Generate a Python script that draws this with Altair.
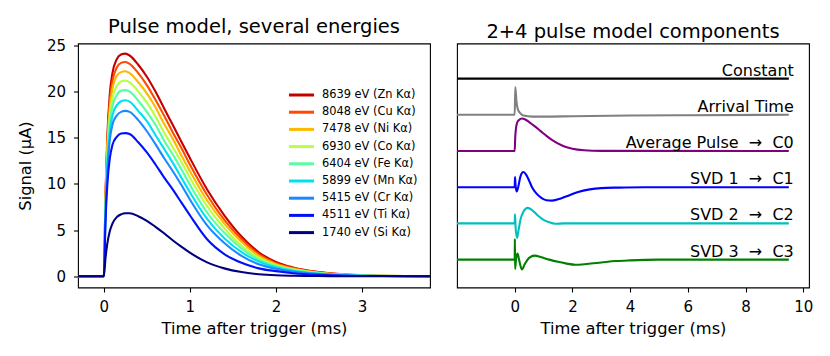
import altair as alt
import pandas as pd

FONT = "DejaVu Sans"

# ---------------- Left panel: pulse model for several energies ----------------
t_left = [-0.3, 0, 0.02, 0.04, 0.07, 0.1, 0.15, 0.2, 0.25, 0.3, 0.4, 0.5, 0.6, 0.7,
          0.8, 0.9, 1.0, 1.2, 1.4, 1.6, 1.8, 2.0, 2.2, 2.5, 2.8, 3.2, 3.8]

energy_labels = ["8639 eV (Zn Kα)", "8048 eV (Cu Kα)", "7478 eV (Ni Kα)",
                 "6930 eV (Co Kα)", "6404 eV (Fe Kα)", "5899 eV (Mn Kα)",
                 "5415 eV (Cr Kα)", "4511 eV (Ti Kα)", "1740 eV (Si Kα)"]
energy_colors = ["#c40000", "#ff4a00", "#ffb800", "#b8ff40", "#58ffa0",
                 "#00e0f4", "#1a88ff", "#0010ff", "#000080"]

zn = [0, 0, 9.0, 15.0, 19.8, 22.0, 23.5, 24.0, 24.1, 23.9, 22.9, 21.6, 20.0, 18.2,
      16.4, 14.6, 12.8, 9.4, 6.6, 4.3, 2.6, 1.55, 0.95, 0.45, 0.2, 0.06, 0.0]
cu = [0, 0, 8.7, 14.4, 19.0, 21.1, 22.6, 23.1, 23.2, 23.0, 22.0, 20.7, 19.1, 17.4,
      15.6, 13.9, 12.1, 8.8, 6.1, 4.0, 2.4, 1.4, 0.88, 0.42, 0.18, 0.05, 0.0]
ni = [0, 0, 8.3, 13.9, 18.3, 20.3, 21.7, 22.1, 22.2, 22.0, 21.0, 19.8, 18.3, 16.5,
      14.9, 13.1, 11.4, 8.2, 5.7, 3.7, 2.2, 1.3, 0.8, 0.38, 0.17, 0.05, 0.0]
co = [0, 0, 8.0, 13.2, 17.4, 19.3, 20.6, 21.1, 21.2, 21.0, 20.0, 18.8, 17.3, 15.6,
      14.0, 12.4, 10.7, 7.6, 5.2, 3.3, 2.0, 1.2, 0.74, 0.35, 0.15, 0.04, 0.0]
fe = [0, 0, 7.6, 12.6, 16.6, 18.4, 19.6, 20.1, 20.15, 20.0, 19.0, 17.8, 16.4, 14.7,
      13.2, 11.6, 9.9, 6.9, 4.7, 3.0, 1.8, 1.1, 0.66, 0.31, 0.14, 0.04, 0.0]
mn = [0, 0, 7.2, 11.9, 15.7, 17.4, 18.5, 18.95, 19.05, 18.9, 17.9, 16.8, 15.3, 13.8,
      12.3, 10.7, 9.1, 6.2, 4.1, 2.6, 1.6, 0.96, 0.58, 0.27, 0.12, 0.03, 0.0]
cr = [0, 0, 6.8, 11.3, 14.8, 16.4, 17.4, 17.8, 17.9, 17.8, 16.9, 15.7, 14.3, 12.8,
      11.4, 9.9, 8.3, 5.5, 3.6, 2.2, 1.3, 0.8, 0.5, 0.23, 0.1, 0.02, 0.0]
ti = [0, 0, 6.0, 9.8, 12.8, 14.2, 15.1, 15.45, 15.5, 15.4, 14.5, 13.4, 12.1, 10.7,
      9.4, 8.0, 6.6, 4.0, 2.4, 1.45, 0.85, 0.55, 0.33, 0.15, 0.06, 0.02, 0.0]
si = [0, 0, 2.0, 3.5, 4.9, 5.7, 6.4, 6.7, 6.82, 6.82, 6.5, 6.0, 5.35, 4.65,
      3.9, 3.2, 2.55, 1.5, 0.85, 0.45, 0.22, 0.1, 0.05, 0.02, 0.0, 0.0, 0.0]
pulse_values = [zn, cu, ni, co, fe, mn, cr, ti, si]

# ---------------- Right panel: pulse model components ----------------
comp_names = ["Constant", "Arrival Time", "Average Pulse \u00a0\u2192\u00a0 C0",
              "SVD 1 \u00a0\u2192\u00a0 C1", "SVD 2 \u00a0\u2192\u00a0 C2",
              "SVD 3 \u00a0\u2192\u00a0 C3"]
comp_colors = ["#000000", "#808080", "#800080", "#0000ff", "#00bfbf", "#008000"]
comp_offsets = [5, 4, 3, 2, 1, 0]

const_t = [-2, 9.5]
const_v = [0, 0]
arr_t = [-2, 0, 0.02, 0.06, 0.11, 0.2, 0.3, 0.6, 1.0, 2.0, 4.0, 6.0, 9.5]
arr_v = [0, 0, 0.77, 0.38, 0.15, 0.04, -0.02, -0.05, -0.05, -0.04, -0.02, -0.01, 0]
avg_t = [-2, 0, 0.02, 0.04, 0.07, 0.1, 0.15, 0.25, 0.35, 0.5, 0.7, 0.9, 1.1, 1.4,
         1.7, 2.0, 2.4, 3.0, 9.5]
avg_v = [0, 0, 0.4, 0.6, 0.74, 0.81, 0.86, 0.9, 0.88, 0.8, 0.68, 0.55, 0.42, 0.25,
         0.13, 0.06, 0.02, 0.005, 0]
svd1_t = [-2, 0, 0.01, 0.03, 0.07, 0.12, 0.2, 0.3, 0.4, 0.5, 0.6, 0.75, 0.9, 1.1,
          1.3, 1.6, 1.9, 2.2, 2.6, 3.0, 3.6, 4.5, 9.5]
svd1_v = [0, 0, 0.28, 0.05, -0.12, 0.0, 0.3, 0.42, 0.34, 0.18, 0.0, -0.17, -0.28,
          -0.36, -0.37, -0.31, -0.22, -0.13, -0.06, -0.025, -0.01, 0, 0]
svd2_t = [-2, 0, 0.01, 0.03, 0.08, 0.13, 0.2, 0.3, 0.45, 0.6, 0.8, 1.0, 1.2, 1.4,
          1.7, 9.5]
svd2_v = [0, 0, 0.25, -0.1, -0.4, -0.2, 0.1, 0.32, 0.43, 0.37, 0.22, 0.1, 0.03,
          -0.01, 0.0, 0]
svd3_t = [-2, 0, 0.005, 0.015, 0.05, 0.1, 0.15, 0.25, 0.35, 0.5, 0.7, 0.9, 1.2,
          1.5, 1.8, 2.1, 2.5, 3.0, 3.5, 4.0, 5.0, 9.5]
svd3_v = [0, 0, 0.57, -0.26, 0.05, 0.17, 0.0, -0.27, -0.12, 0.05, 0.11, 0.07, 0.0,
          -0.06, -0.11, -0.14, -0.12, -0.08, -0.04, -0.02, 0, 0]
comp_series = [(const_t, const_v), (arr_t, arr_v), (avg_t, avg_v),
               (svd1_t, svd1_v), (svd2_t, svd2_v), (svd3_t, svd3_v)]

# ---------------- tables ----------------
left_rows = []
for lab, vals in zip(energy_labels, pulse_values):
    for t, v in zip(t_left, vals):
        left_rows.append({"t": t, "v": v, "line": lab})
left_df = pd.DataFrame(left_rows)

right_rows, label_rows = [], []
for name, off, (ts, vs) in zip(comp_names, comp_offsets, comp_series):
    for t, v in zip(ts, vs):
        right_rows.append({"t": t, "y": off + v, "comp": name})
    label_rows.append({"t": ts[-1], "y": off, "comp": name})
right_df = pd.DataFrame(right_rows)
label_df = pd.DataFrame(label_rows)

title_kw = dict(fontSize=19.5, font=FONT, fontWeight="normal", color="black",
                anchor="middle", frame="group", offset=1)

left = alt.Chart(left_df).mark_line(strokeWidth=2.1, interpolate="monotone", clip=True).encode(
    x=alt.X("t:Q", scale=alt.Scale(domain=[-0.3, 3.79], nice=False, zero=False),
            axis=alt.Axis(values=[0, 1, 2, 3], format="d", title="Time after trigger (ms)")),
    y=alt.Y("v:Q", scale=alt.Scale(domain=[-1.22, 25.2], nice=False, zero=False),
            axis=alt.Axis(values=[0, 5, 10, 15, 20, 25], format="d", title="Signal (μA)")),
    color=alt.Color("line:N", sort=energy_labels,
                    scale=alt.Scale(domain=energy_labels, range=energy_colors),
                    legend=alt.Legend(orient="none", legendX=217, legendY=45, title=None,
                                      symbolType="M-2.5,0H2.5", symbolSize=100,
                                      symbolStrokeWidth=3, labelFontSize=11.4,
                                      labelFont=FONT, labelColor="black", labelOffset=14,
                                      rowPadding=4.2, padding=0, labelLimit=300)),
).properties(width=352, height=244,
             title=alt.Title("Pulse model, several energies", **title_kw))

right_lines = alt.Chart(right_df).mark_line(strokeWidth=2.1, interpolate="monotone", clip=True).encode(
    x=alt.X("t:Q", scale=alt.Scale(domain=[-2, 10.2], nice=False, zero=False),
            axis=alt.Axis(values=[0, 2, 4, 6, 8, 10], format="d", title="Time after trigger (ms)")),
    y=alt.Y("y:Q", scale=alt.Scale(domain=[-0.77, 5.97], nice=False, zero=False), axis=None),
    color=alt.Color("comp:N", sort=comp_names,
                    scale=alt.Scale(domain=comp_names, range=comp_colors), legend=None),
)
right_text = alt.Chart(label_df).mark_text(align="right", baseline="alphabetic", dx=5, dy=-3,
                                            fontSize=16, font=FONT, color="black").encode(
    x="t:Q", y="y:Q", text="comp:N")
right = alt.layer(right_lines, right_text).properties(
    width=352, height=244, title=alt.Title("2+4 pulse model components", **title_kw))

chart = alt.hconcat(left, right, spacing=25).resolve_scale(color="independent").properties(
    padding={"left": 8, "top": 7.5, "right": 5, "bottom": 5}
).configure_view(stroke="black", strokeWidth=1.1).configure_axis(
    labelFont=FONT, labelFontSize=15, labelColor="black",
    titleFont=FONT, titleFontSize=16.3, titleFontWeight="normal", titleColor="black",
    tickColor="black", tickSize=4.5, tickWidth=1.1, domain=False, grid=False,
).configure_axisX(labelPadding=7, titlePadding=6).configure_axisY(labelPadding=8, titlePadding=13)

chart.save("out.html", embed_options={"renderer": "svg", "actions": False})
